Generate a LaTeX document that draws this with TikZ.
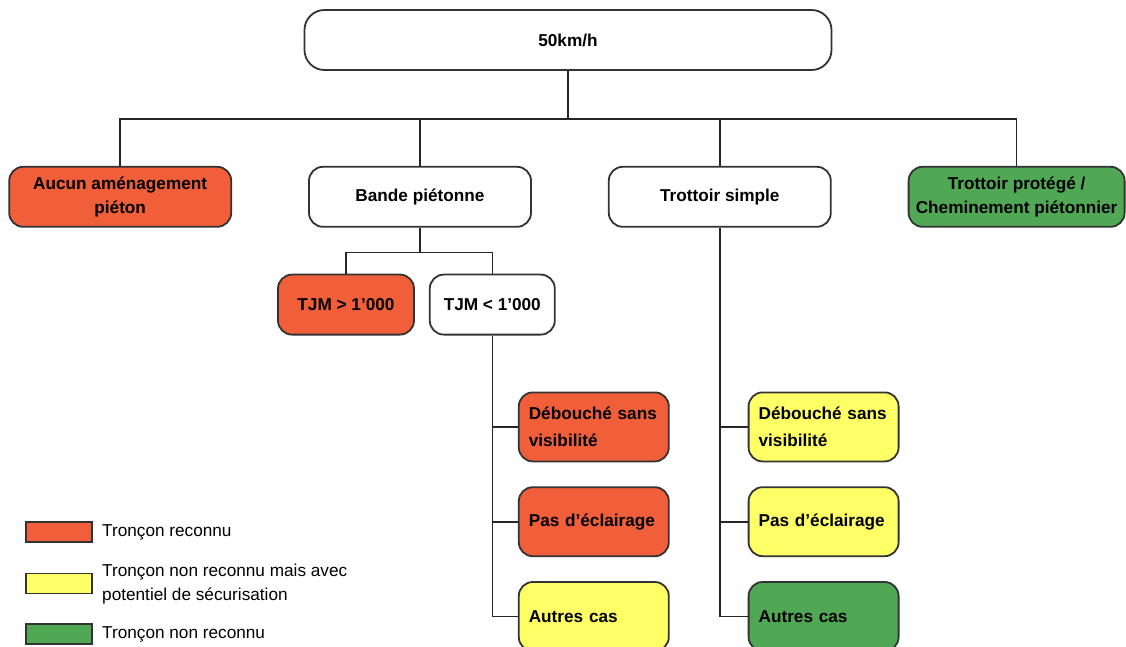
\documentclass[tikz,border=0pt]{standalone}
\usepackage{fontspec}
\setmainfont{Liberation Sans}
\usepackage{xcolor}
\usepackage{tikz}
\usetikzlibrary{positioning}

\definecolor{recog}{RGB}{240,94,58}
\definecolor{potent}{RGB}{255,255,102}
\definecolor{nonrec}{RGB}{80,168,84}

\begin{document}
\begin{tikzpicture}[
    node distance=37pt,
    box/.style={rectangle, draw=black!80, line width=0.9pt, rounded corners=7pt, minimum width=111pt, minimum height=30pt, align=center, fill=#1, font=\bfseries\fontsize{8.6}{12}\selectfont},
    box/.default=white,
    leaf/.style={box=#1, minimum width=75pt, text width=65pt, inner xsep=5pt, align=left, minimum height=34.5pt, font=\bfseries\fontsize{8.6}{13.5}\selectfont},
    leaf/.default=white,
    swatch/.style={rectangle, draw=black!80, line width=0.8pt, fill=#1, minimum width=33pt, minimum height=10pt, inner sep=0pt},
    key/.style={font=\fontsize{8.6}{12}\selectfont, anchor=west, align=left, inner sep=0pt},
    link/.style={line width=0.8pt, draw=black!85}
]
    \useasboundingbox (0,0) rectangle (563pt,-323.5pt);

    % Speed limit at the top
    \node[box, minimum width=263.5pt, rounded corners=10pt] (top) at (284pt,-20pt) {50km/h};

    % Pedestrian facilities — one row
    \node[box,          below=47.5pt of top, xshift=-74pt] (bande)   {Bande piétonne};
    \node[box=recog,    left=38pt of bande]                 (aucun)   {Aucun aménagement\\piéton};
    \node[box,          right=38pt of bande]                (simple)  {Trottoir simple};
    \node[box=nonrec,   minimum width=108pt, right=38pt of simple] (protege) {Trottoir protégé /\\Cheminement piétonnier};

    % Traffic volume under the pedestrian strip
    \node[box=recog, minimum width=68pt,   below=23pt of bande, xshift=-37pt] (tjmhi) {TJM > 1'000};
    \node[box,       minimum width=62.5pt, right=7pt of tjmhi]                (tjmlo) {TJM < 1'000};

    % Special cases
    \node[leaf=recog,  below=28pt of tjmlo, xshift=50.75pt] (deb1)   {Débouché sans\\visibilité};
    \node[leaf=recog,  below=12pt of deb1]                  (pas1)   {Pas d'éclairage};
    \node[leaf=potent, below=12pt of pas1]                  (autre1) {Autres cas};
    \node[leaf=potent, right=39pt of deb1]                  (deb2)   {Débouché sans\\visibilité};
    \node[leaf=potent, below=12pt of deb2]                  (pas2)   {Pas d'éclairage};
    \node[leaf=nonrec, below=12pt of pas2]                  (autre2) {Autres cas};

    % Legend
    \node[swatch=recog]                     (key1) at (29.5pt,-266pt) {};
    \node[swatch=potent, below=15pt of key1]   (key2) {};
    \node[swatch=nonrec, below=14.5pt of key2] (key3) {};
    \node[key, right=4.5pt of key1] (lab1) {Tronçon reconnu};
    \node[key, right=4.5pt of key2] (lab2) {Tronçon non reconnu mais avec\\potentiel de sécurisation};
    \node[key, right=4.5pt of key3] (lab3) {Tronçon non reconnu};

    % Tree lines
    \coordinate[below=24pt of top] (bus);
    \draw[link] (top) -- (bus);
    \foreach \n in {aucun,bande,simple,protege}
        \draw[link] (bus) -| (\n);

    \coordinate[below=12.5pt of bande] (bbus);
    \draw[link] (bande) -- (bbus);
    \draw[link] (bbus) -| (tjmhi);
    \draw[link] (bbus) -| (tjmlo);

    \foreach \n in {deb1,pas1,autre1}
        \draw[link] (tjmlo) |- (\n);
    \foreach \n in {deb2,pas2,autre2}
        \draw[link] (simple) |- (\n);

\end{tikzpicture}
\end{document}
